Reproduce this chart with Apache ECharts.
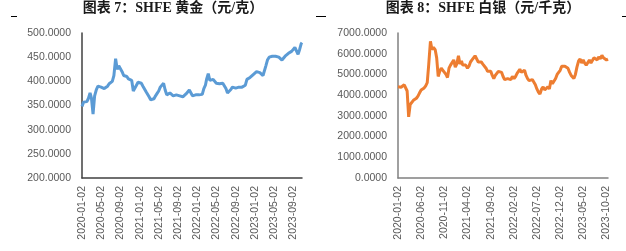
<!DOCTYPE html>
<html>
<head>
<meta charset="utf-8">
<script src="https://cdn.jsdelivr.net/npm/echarts@6/dist/echarts.min.js"></script>
<style>
    html, body { margin: 0; padding: 0; background: #fff; }
    #main { width: 626px; height: 251px; }
</style>
</head>
<body>
<div id="main"></div>
<script>
// 取样日期（每月2日/12日/22日）
var dates = [
    '2020-01-02','2020-01-12','2020-01-22','2020-02-02','2020-02-12','2020-02-22','2020-03-02','2020-03-12','2020-03-22',
    '2020-04-02','2020-04-12','2020-04-22','2020-05-02','2020-05-12','2020-05-22','2020-06-02','2020-06-12','2020-06-22',
    '2020-07-02','2020-07-12','2020-07-22','2020-08-02','2020-08-12','2020-08-22','2020-09-02','2020-09-12','2020-09-22',
    '2020-10-02','2020-10-12','2020-10-22','2020-11-02','2020-11-12','2020-11-22','2020-12-02','2020-12-12','2020-12-22',
    '2021-01-02','2021-01-12','2021-01-22','2021-02-02','2021-02-12','2021-02-22','2021-03-02','2021-03-12','2021-03-22',
    '2021-04-02','2021-04-12','2021-04-22','2021-05-02','2021-05-12','2021-05-22','2021-06-02','2021-06-12','2021-06-22',
    '2021-07-02','2021-07-12','2021-07-22','2021-08-02','2021-08-12','2021-08-22','2021-09-02','2021-09-12','2021-09-22',
    '2021-10-02','2021-10-12','2021-10-22','2021-11-02','2021-11-12','2021-11-22','2021-12-02','2021-12-12','2021-12-22',
    '2022-01-02','2022-01-12','2022-01-22','2022-02-02','2022-02-12','2022-02-22','2022-03-02','2022-03-12','2022-03-22',
    '2022-04-02','2022-04-12','2022-04-22','2022-05-02','2022-05-12','2022-05-22','2022-06-02','2022-06-12','2022-06-22',
    '2022-07-02','2022-07-12','2022-07-22','2022-08-02','2022-08-12','2022-08-22','2022-09-02','2022-09-12','2022-09-22',
    '2022-10-02','2022-10-12','2022-10-22','2022-11-02','2022-11-12','2022-11-22','2022-12-02','2022-12-12','2022-12-22',
    '2023-01-02','2023-01-12','2023-01-22','2023-02-02','2023-02-12','2023-02-22','2023-03-02','2023-03-12','2023-03-22',
    '2023-04-02','2023-04-12','2023-04-22','2023-05-02','2023-05-12','2023-05-22','2023-06-02','2023-06-12','2023-06-22',
    '2023-07-02','2023-07-12','2023-07-22','2023-08-02','2023-08-12','2023-08-22','2023-09-02','2023-09-12','2023-09-22',
    '2023-10-02','2023-10-12','2023-10-22','2023-10-27'
];

// 黄金 元/克
var goldValues = [
    348, 357, 360, 358, 365, 376, 365, 332, 370,
    383, 390, 386, 388, 392, 385, 382, 390, 395,
    397, 400, 412, 447, 425, 432, 428, 420, 412,
    408, 410, 405, 409, 402, 380, 384, 392, 398,
    401, 396, 390, 388, 378, 376, 368, 362, 360,
    364, 370, 375, 380, 388, 392, 396, 382, 372,
    372, 376, 380, 370, 366, 372, 375, 370, 366,
    368, 372, 374, 372, 382, 378, 370, 370, 372,
    374, 372, 376, 373, 385, 392, 405, 416, 402,
    400, 404, 402, 396, 392, 395, 398, 396, 394,
    385, 376, 377, 383, 388, 390, 386, 384, 388,
    390, 388, 386, 392, 404, 404, 408, 412, 414,
    418, 420, 422, 418, 414, 412, 415, 432, 444,
    450, 448, 452, 456, 452, 448, 450, 448, 444,
    448, 452, 456, 458, 460, 462, 466, 470, 472,
    456, 466, 478, 480
];

// 白银 元/千克（到 2023-10-12）
var silverValues = [
    4400, 4450, 4380, 4350, 4500, 4560, 4200, 2950, 3550,
    3600, 3750, 3700, 3850, 3950, 4100, 4250, 4300, 4350,
    4450, 4600, 5500, 6600, 6200, 6300, 6200, 5800, 4900,
    5150, 5300, 5250, 5100, 5000, 4850, 5300, 5450, 5500,
    5700, 5350, 5500, 5900, 5500, 5650, 5450, 5400, 5450,
    5300, 5400, 5600, 5700, 5800, 5900, 5850, 5600, 5550,
    5600, 5500, 5450, 5300, 5150, 5100, 5150, 4950, 4800,
    4950, 5050, 5150, 5100, 5100, 4900, 4750, 4750, 4800,
    4800, 4750, 4900, 4800, 4900, 5050, 5100, 5250, 5100,
    5150, 5200, 4950, 4800, 4700, 4750, 4750, 4700, 4500,
    4300, 4150, 4050, 4300, 4400, 4250, 4200, 4400, 4300,
    4700, 4550, 4600, 4800, 5000, 5100, 5200, 5400, 5450,
    5400, 5350, 5300, 5100, 4950, 4900, 4800, 5000, 5350,
    5650, 5750, 5550, 5700, 5550, 5450, 5450, 5700, 5550,
    5550, 5800, 5850, 5700, 5850, 5750, 5920, 5800, 5760,
    5700, 5740
];

var goldTicks = ['2020-01-02','2020-05-02','2020-09-02','2021-01-02','2021-05-02','2021-09-02',
    '2022-01-02','2022-05-02','2022-09-02','2023-01-02','2023-05-02','2023-09-02'];
var silverTicks = ['2020-01-02','2020-06-02','2020-11-02','2021-04-02','2021-09-02',
    '2022-02-02','2022-07-02','2022-12-02','2023-05-02','2023-10-02'];

function toTs(s) {
    return +echarts.number.parseDate(s);
}
function toPairs(vals) {
    var arr = [];
    for (var i = 0; i < vals.length; i++) {
        arr.push([toTs(dates[i]), vals[i]]);
    }
    return arr;
}

var labelFont = '"Liberation Sans", Arial, sans-serif';
var titleFont = '"Liberation Serif", "Noto Sans CJK SC", serif';

function makeX(idx, ticks, maxDate, lineColor) {
    return {
        type: 'value',
        gridIndex: idx,
        min: toTs(dates[0]),
        max: toTs(maxDate),
        axisLine: { show: true, lineStyle: { color: lineColor, width: 1.5 } },
        axisTick: { show: false },
        splitLine: { show: false },
        axisLabel: {
            customValues: ticks.map(toTs),
            showMinLabel: true,
            showMaxLabel: true,
            rotate: 90,
            margin: 8,
            color: '#595959',
            fontSize: 10.5,
            fontFamily: labelFont,
            hideOverlap: false,
            formatter: function (v) {
                return echarts.time.format(v, '{yyyy}-{MM}-{dd}', false);
            }
        }
    };
}
function makeY(idx, min, max, step, lineColor) {
    return {
        type: 'value',
        gridIndex: idx,
        min: min,
        max: max,
        interval: step,
        axisLine: { show: true, lineStyle: { color: lineColor, width: 1.5 } },
        axisTick: { show: false },
        splitLine: { show: false },
        axisLabel: {
            margin: 11,
            color: '#595959',
            fontSize: 10.5,
            fontFamily: labelFont,
            formatter: function (v) { return v.toFixed(4); }
        }
    };
}

var chart = echarts.init(document.getElementById('main'), null, { renderer: 'canvas' });
chart.setOption({
    animation: false,
    backgroundColor: '#fff',
    grid: [
        { left: 82, top: 33, width: 220, height: 145 },
        { left: 398, top: 33, width: 210, height: 145 }
    ],
    xAxis: [
        makeX(0, goldTicks, '2023-10-27', '#404040'),
        makeX(1, silverTicks, '2023-10-12', '#808080')
    ],
    yAxis: [
        makeY(0, 200, 500, 50, '#404040'),
        makeY(1, 0, 7000, 1000, '#808080')
    ],
    series: [
        {
            type: 'line', xAxisIndex: 0, yAxisIndex: 0,
            data: toPairs(goldValues), showSymbol: false,
            lineStyle: { color: '#5B9BD5', width: 3 }
        },
        {
            type: 'line', xAxisIndex: 1, yAxisIndex: 1,
            data: toPairs(silverValues), showSymbol: false,
            lineStyle: { color: '#ED7D31', width: 3 }
        }
    ],
    graphic: [
        { type: 'text', x: 173, y: 8, style: { text: '图表 7：SHFE 黄金（元/克）', font: 'bold 14px ' + titleFont, fill: '#1a1a1a', align: 'center', verticalAlign: 'middle' } },
        { type: 'text', x: 483, y: 8, style: { text: '图表 8：SHFE 白银（元/千克）', font: 'bold 14px ' + titleFont, fill: '#1a1a1a', align: 'center', verticalAlign: 'middle' } },
        { type: 'line', shape: { x1: 11, y1: 16.5, x2: 17, y2: 16.5 }, style: { stroke: '#000', lineWidth: 1 } },
        { type: 'line', shape: { x1: 316, y1: 16.5, x2: 326, y2: 16.5 }, style: { stroke: '#000', lineWidth: 1 } },
        { type: 'line', shape: { x1: 622, y1: 16.5, x2: 626, y2: 16.5 }, style: { stroke: '#000', lineWidth: 1 } }
    ]
});
</script>
</body>
</html>
